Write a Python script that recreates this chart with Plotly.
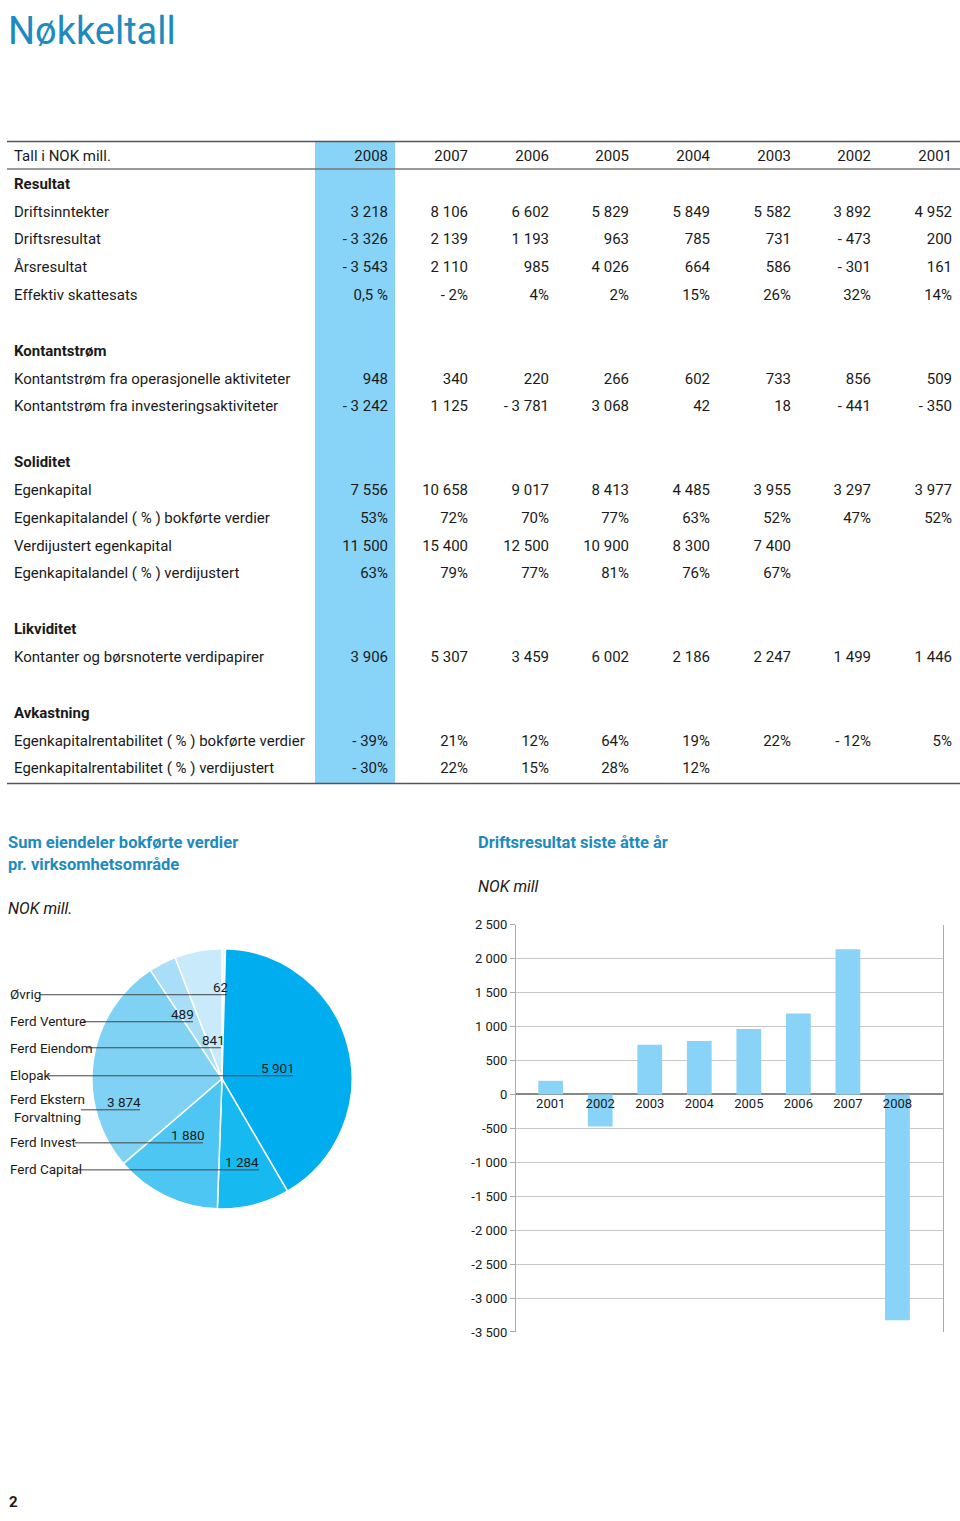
import plotly.graph_objects as go

W, H = 960, 1521
# the photographed page shows page-y as 0.9894*y + 7; compensate so marks land on reference pixels
SY, OY = 0.9894, 7.0
def px(x): return x / W
def py(y): return 1 - ((y - OY) / SY) / H

FONT = "Roboto"
TEAL = "#1d8bbf"
BLUE_COL = "#88d3f8"
TXT = "#1a1a1a"

# ---------------- table data ----------------
years = ["2008", "2007", "2006", "2005", "2004", "2003", "2002", "2001"]
driftsinntekter = [3218, 8106, 6602, 5829, 5849, 5582, 3892, 4952]
driftsresultat = [-3326, 2139, 1193, 963, 785, 731, -473, 200]
aarsresultat = [-3543, 2110, 985, 4026, 664, 586, -301, 161]
skattesats = ["0,5 %", "- 2%", "4%", "2%", "15%", "26%", "32%", "14%"]
kontantstrom_ops = [948, 340, 220, 266, 602, 733, 856, 509]
kontantstrom_inv = [-3242, 1125, -3781, 3068, 42, 18, -441, -350]
egenkapital = [7556, 10658, 9017, 8413, 4485, 3955, 3297, 3977]
ek_andel_bokf = [53, 72, 70, 77, 63, 52, 47, 52]
verdijustert_ek = [11500, 15400, 12500, 10900, 8300, 7400, None, None]
ek_andel_verdi = [63, 79, 77, 81, 76, 67, None, None]
kontanter = [3906, 5307, 3459, 6002, 2186, 2247, 1499, 1446]
ekr_bokf = [-39, 21, 12, 64, 19, 22, -12, 5]
ekr_verdi = [-30, 22, 15, 28, 12, None, None, None]

# ---------------- pie data ----------------
pie_labels = ["Øvrig", "Elopak", "Ferd Capital", "Ferd Invest",
              "Ferd Ekstern Forvaltning", "Ferd Venture", "Ferd Eiendom"]
pie_values = [62, 5901, 1284, 1880, 3874, 489, 841]
pie_colors = ["#eef7fd", "#00aeef", "#16baf0", "#4ec6f3", "#80d2f5", "#a8def8", "#c8eafa"]

# ---------------- bar data ----------------
bar_years = years[::-1]
bar_values = driftsresultat[::-1]
ytick_vals = [2500, 2000, 1500, 1000, 500, 0, -500, -1000, -1500, -2000, -2500, -3000, -3500]
ytick_text = ["2 500", "2 000", "1 500", "1 000", "500", "0", "-500", "-1 000",
              "-1 500", "-2 000", "-2 500", "-3 000", "-3 500"]


def fnum(v):
    if v is None:
        return ""
    s = f"{abs(v):,}".replace(",", " ")
    return ("- " + s) if v < 0 else s


def fpct(v):
    if v is None:
        return ""
    return ("- %d%%" % abs(v)) if v < 0 else ("%d%%" % v)


rows = [
    ("<b>Resultat</b>", [""] * 8),
    ("Driftsinntekter", [fnum(v) for v in driftsinntekter]),
    ("Driftsresultat", [fnum(v) for v in driftsresultat]),
    ("Årsresultat", [fnum(v) for v in aarsresultat]),
    ("Effektiv skattesats", skattesats),
    ("", [""] * 8),
    ("<b>Kontantstrøm</b>", [""] * 8),
    ("Kontantstrøm fra operasjonelle aktiviteter", [fnum(v) for v in kontantstrom_ops]),
    ("Kontantstrøm fra investeringsaktiviteter", [fnum(v) for v in kontantstrom_inv]),
    ("", [""] * 8),
    ("<b>Soliditet</b>", [""] * 8),
    ("Egenkapital", [fnum(v) for v in egenkapital]),
    ("Egenkapitalandel ( % ) bokførte verdier", [fpct(v) for v in ek_andel_bokf]),
    ("Verdijustert egenkapital", [fnum(v) for v in verdijustert_ek]),
    ("Egenkapitalandel ( % ) verdijustert", [fpct(v) for v in ek_andel_verdi]),
    ("", [""] * 8),
    ("<b>Likviditet</b>", [""] * 8),
    ("Kontanter og børsnoterte verdipapirer", [fnum(v) for v in kontanter]),
    ("", [""] * 8),
    ("<b>Avkastning</b>", [""] * 8),
    ("Egenkapitalrentabilitet ( % ) bokførte verdier", [fpct(v) for v in ekr_bokf]),
    ("Egenkapitalrentabilitet ( % ) verdijustert", [fpct(v) for v in ekr_verdi]),
]

# table geometry (reference px): row index 0 = header
ROW0, ROWSTEP = 157, 27.82
TBL_TOP, TBL_BOT = 141, 783
LABEL_X = 14
COL_RIGHT = [388, 468, 549, 629, 710, 791, 871, 952]

fig = go.Figure()

# ---- table as text on a hidden axis pair (x2/y2) ----
lab_x, lab_y, lab_t = [LABEL_X], [0], ["Tall i NOK mill."]
val_x, val_y, val_t = list(COL_RIGHT), [0] * 8, list(years)
for i, (lab, vals) in enumerate(rows, start=1):
    lab_x.append(LABEL_X); lab_y.append(i); lab_t.append(lab)
    for j, v in enumerate(vals):
        if v:
            val_x.append(COL_RIGHT[j]); val_y.append(i); val_t.append(v)

fig.add_trace(go.Scatter(x=lab_x, y=lab_y, text=lab_t, mode="text",
                         textposition="middle right", xaxis="x2", yaxis="y2",
                         textfont=dict(family=FONT, size=15, color=TXT),
                         hoverinfo="skip", showlegend=False))
fig.add_trace(go.Scatter(x=val_x, y=val_y, text=val_t, mode="text",
                         textposition="middle left", xaxis="x2", yaxis="y2",
                         textfont=dict(family=FONT, size=15, color=TXT),
                         hoverinfo="skip", showlegend=False))

# ---------------- pie ----------------
fig.add_trace(go.Pie(
    labels=pie_labels, values=pie_values, sort=False, direction="clockwise",
    rotation=0, textinfo="none", hoverinfo="label+value",
    marker=dict(colors=pie_colors, line=dict(color="white", width=1.5)),
    domain=dict(x=[px(91), px(353)], y=[py(1208), py(948)]),
    showlegend=False,
))

# ---------------- bar ----------------
fig.add_trace(go.Bar(
    x=bar_years, y=bar_values, marker=dict(color="#88d3f7", line=dict(width=0)),
    width=0.5, showlegend=False, xaxis="x", yaxis="y",
))

shapes = []
annotations = []

def hline(x0, x1, y, color="#555", width=1):
    shapes.append(dict(type="line", xref="paper", yref="paper",
                       x0=px(x0), x1=px(x1), y0=py(y), y1=py(y),
                       line=dict(color=color, width=width), layer="above"))

def text(x, y, s, size=13, color=TXT, xanchor="left", bold=False, italic=False,
         family=FONT, yanchor="middle"):
    if bold:
        s = "<b>" + s + "</b>"
    if italic:
        s = "<i>" + s + "</i>"
    annotations.append(dict(x=px(x), y=py(y), xref="paper", yref="paper", text=s,
                            showarrow=False, xanchor=xanchor, yanchor=yanchor,
                            font=dict(family=family, size=size, color=color)))

# highlighted 2008 column
shapes.append(dict(type="rect", xref="paper", yref="paper",
                   x0=px(315), x1=px(395), y0=py(TBL_BOT), y1=py(TBL_TOP),
                   fillcolor=BLUE_COL, line=dict(width=0), layer="below"))
# table rules
hline(7, 960, 141.5, "#555", 1.5)
hline(7, 960, 169, "#777", 1.5)
hline(7, 960, 783, "#555", 1.5)

# page title, kept fully inside the top edge
annotations.append(dict(x=px(6), y=1, xref="paper", yref="paper", text="Nøkkeltall",
                        showarrow=False, xanchor="left", yanchor="top",
                        font=dict(family=FONT, size=38, color=TEAL)))

# pie headings
text(6, 842, "Sum eiendeler bokførte verdier", size=16.5, color=TEAL, bold=True)
text(6, 864, "pr. virksomhetsområde", size=16.5, color=TEAL, bold=True)
text(6, 908, "NOK mill.", size=16, italic=True)

# bar headings
text(476, 842, "Driftsresultat siste åtte år", size=16.5, color=TEAL, bold=True)
text(476, 886, "NOK mill", size=16, italic=True)

# pie labels & leader lines
pie_label_pos = [
    ("Øvrig", 8, 993, 40, 227, 994, "62", 221),
    ("Ferd Venture", 8, 1020, 83, 193, 1021, "489", 182),
    ("Ferd Eiendom", 8, 1047, 88, 221, 1047, "841", 213),
    ("Elopak", 8, 1074, 48, 293, 1075, "5 901", 278),
    ("Ferd Ekstern<br>Forvaltning", 8, 1107, 81, 140, 1109, "3 874", 124),
    ("Ferd Invest", 8, 1141, 75, 203, 1142, "1 880", 188),
    ("Ferd Capital", 8, 1168, 78, 259, 1169, "1 284", 242),
]
for lab, lx, ly, x0, x1, yl, val, vx in pie_label_pos:
    text(lx, ly, lab, size=13.5)
    hline(x0, x1, yl, "#444", 1)
    text(vx, yl - 8, val, size=13.5, xanchor="center")

# page number (at the very bottom of the page)
annotations.append(dict(x=px(7), y=0, xref="paper", yref="paper", text="<b>2</b>",
                        showarrow=False, xanchor="left", yanchor="bottom",
                        font=dict(family=FONT, size=15, color=TXT)))

zero_y = 924 + 2500 / 6000 * (1331 - 924)

# table axis ranges in row units
y2_top = (TBL_TOP - ROW0) / ROWSTEP
y2_bot = (TBL_BOT - ROW0) / ROWSTEP

fig.update_layout(
    width=W, height=H, margin=dict(l=0, r=0, t=0, b=0),
    paper_bgcolor="white", plot_bgcolor="rgba(0,0,0,0)",
    font=dict(family=FONT, color=TXT),
    shapes=shapes, annotations=annotations,
    xaxis=dict(domain=[px(516), px(943)], type="category", range=[-0.7, 7.92],
               anchor="free", position=py(zero_y), showgrid=False, showline=False,
               ticks="", tickfont=dict(family=FONT, size=13, color=TXT),
               fixedrange=True),
    yaxis=dict(domain=[py(1331), py(924)], range=[-3500, 2500],
               tickvals=ytick_vals, ticktext=ytick_text,
               showgrid=True, gridcolor="#c8c8c8", gridwidth=1,
               zeroline=True, zerolinecolor="#888", zerolinewidth=2,
               showline=True, linecolor="#aaa", linewidth=1, mirror=True,
               ticks="outside", ticklen=5, tickcolor="#aaa",
               tickfont=dict(family=FONT, size=13, color=TXT), fixedrange=True),
    xaxis2=dict(domain=[0, 1], range=[0, W], visible=False, fixedrange=True,
                anchor="y2"),
    yaxis2=dict(domain=[py(TBL_BOT), py(TBL_TOP)], range=[y2_bot, y2_top],
                visible=False, fixedrange=True, anchor="x2"),
    bargap=0.5,
)

fig.write_html("out.html", config={"displayModeBar": False},
               post_script="document.body.style.margin='0';")
